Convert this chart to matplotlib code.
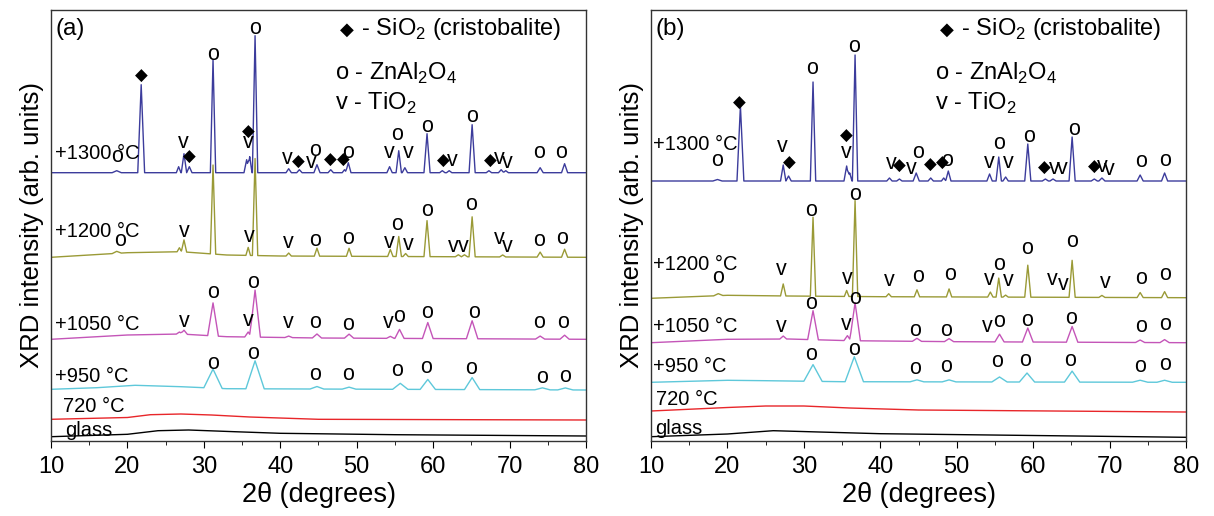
import numpy as np
import matplotlib.pyplot as plt
from matplotlib.ticker import MultipleLocator

plt.rcParams['font.family'] = ['Liberation Sans', 'DejaVu Sans']
plt.rcParams['mathtext.fontset'] = 'custom'
plt.rcParams['mathtext.rm'] = 'Liberation Sans'

# --- data (intensity in arb. units, 2theta in degrees) ---
# background knots (x, y) and peaks (position, height, half base width)

# panel (a)
a_glass_bx = [10, 20, 24, 28, 34, 40, 55, 80]
a_glass_by = [4.3, 6.7, 10.3, 11, 9.3, 7.7, 6.3, 5]

a720_bx = [10, 20, 23, 27, 31, 36, 45, 80]
a720_by = [21.7, 23.5, 26.3, 27, 26, 24, 21.7, 21]

a950_bx = [10, 16, 21, 27, 33, 80]
a950_by = [51.7, 53.3, 55.7, 54.3, 52.3, 51]
a950_peaks = [(31.2, 19, 1.2), (36.7, 28, 1.2), (44.8, 2.5, 0.9), (49.0, 2, 0.9),
              (55.7, 6, 1.0), (59.3, 10, 1.0), (65.1, 12, 1.0), (74.3, 2, 1.0),
              (77.3, 2, 1.0)]

a1050_bx = [10, 20, 27, 33, 45, 80]
a1050_by = [101.7, 106, 107, 104.3, 103, 101.7]
a1050_peaks = [(26.8, 2, 0.4), (27.4, 4, 0.45), (31.2, 33, 0.7), (35.8, 5, 0.45),
               (36.7, 47, 0.7), (41.1, 1.5, 0.5), (44.8, 4, 0.6), (49.0, 4, 0.6),
               (54.4, 2, 0.5), (55.6, 9, 0.6), (59.3, 16, 0.7), (65.1, 18, 0.75),
               (74.0, 3, 0.6), (77.2, 4, 0.6)]

a1200_bx = [10, 20, 27, 33, 40, 80]
a1200_by = [183.7, 188.3, 189.3, 186, 185, 183.7]
a1200_peaks = [(18.6, 2, 0.6), (26.8, 4, 0.3), (27.4, 12, 0.35), (31.2, 89, 0.35),
               (35.8, 8, 0.3), (36.7, 97, 0.35), (41.1, 3, 0.35), (44.8, 8, 0.35),
               (49.0, 8, 0.35), (54.4, 7, 0.35), (55.5, 20, 0.35), (56.4, 3, 0.35),
               (59.2, 36, 0.4), (63.3, 2, 0.4), (64.1, 2, 0.4), (65.1, 40, 0.4),
               (69.1, 2, 0.4), (74.0, 5, 0.4), (77.2, 8, 0.4)]

a1300_bx = [10, 80]
a1300_by = [268.3, 268.3]
a1300_peaks = [(18.6, 2, 0.6), (21.8, 88, 0.45), (26.7, 6, 0.3), (27.4, 19, 0.35),
               (28.1, 6, 0.35), (31.2, 113, 0.35), (35.6, 13, 0.35), (36.0, 16, 0.3),
               (36.7, 137, 0.35), (41.1, 4, 0.35), (42.5, 3, 0.35), (44.8, 8, 0.4),
               (46.6, 3, 0.35), (48.4, 3, 0.3), (48.9, 10, 0.35), (54.3, 6, 0.35),
               (55.5, 22, 0.35), (56.3, 5, 0.35), (59.2, 39, 0.4), (61.2, 2, 0.35),
               (62.1, 2, 0.35), (65.1, 48, 0.4), (67.3, 2, 0.35), (68.9, 3, 0.35),
               (69.5, 2, 0.35), (74.0, 5, 0.4), (77.2, 9, 0.4)]

# panel (b)
b_glass_bx = [10, 20, 26, 32, 40, 60, 80]
b_glass_by = [4.3, 7, 10.3, 9, 7.3, 5.5, 3.7]

b720_bx = [10, 20, 25, 30, 36, 45, 80]
b720_by = [30, 33.5, 35, 35, 33, 31, 29]

b950_bx = [10, 20, 25, 35, 80]
b950_by = [58.7, 60.7, 60.3, 59.3, 58.7]
b950_peaks = [(31.2, 16.7, 1.2), (36.6, 25, 1.2), (44.8, 2, 0.9), (49.0, 2, 0.9),
              (55.6, 5, 1.0), (59.2, 9, 1.0), (65.1, 11, 1.0), (74.0, 2, 1.0),
              (77.2, 2, 1.0)]

b1050_bx = [10, 20, 28, 36, 50, 80]
b1050_by = [98.3, 101.7, 102, 100.3, 99.3, 98.3]
b1050_peaks = [(27.3, 3, 0.45), (31.2, 29, 0.7), (35.7, 5, 0.45), (36.7, 38, 0.7),
               (44.8, 3, 0.6), (49.0, 3, 0.6), (55.6, 7.7, 0.6), (59.3, 14, 0.7),
               (65.1, 15.7, 0.75), (74.0, 2.5, 0.6), (77.2, 3, 0.6)]

b1200_bx = [10, 20, 28, 40, 80]
b1200_by = [142.7, 145.7, 145, 144.3, 143.3]
b1200_peaks = [(18.8, 2, 0.6), (27.3, 12, 0.35), (31.2, 79, 0.35), (35.6, 6, 0.3),
               (36.7, 96, 0.35), (41.1, 3, 0.35), (44.8, 7, 0.35), (49.0, 8, 0.35),
               (54.4, 5, 0.35), (55.5, 19, 0.35), (56.4, 2, 0.35), (59.3, 32, 0.4),
               (65.1, 37, 0.4), (69.0, 2, 0.4), (74.0, 5, 0.4), (77.2, 6, 0.4)]

b1300_bx = [10, 80]
b1300_by = [260, 260]
b1300_peaks = [(18.7, 1.5, 0.6), (21.7, 75, 0.45), (27.3, 16, 0.35), (28.0, 5, 0.35),
               (31.2, 99, 0.35), (35.6, 15, 0.35), (36.0, 8, 0.3), (36.7, 126, 0.35),
               (41.2, 3, 0.35), (42.5, 2, 0.35), (44.7, 8, 0.4), (46.6, 3, 0.35),
               (48.3, 3, 0.3), (48.9, 10, 0.35), (54.3, 7, 0.35), (55.5, 24, 0.35),
               (56.4, 4, 0.35), (59.3, 37, 0.4), (61.6, 2, 0.4), (62.6, 2, 0.4),
               (65.1, 44, 0.4), (68.0, 2, 0.4), (69.0, 3, 0.4), (74.0, 6, 0.4),
               (77.2, 8, 0.4)]

# phase marks (x, y, symbol): D = cristobalite, o = ZnAl2O4, v = TiO2
a1300_marks = [(21.8, 365, 'D'), (31.2, 386, 'o'), (36.7, 412, 'o'), (18.7, 284, 'o'),
               (27.3, 298, 'v'), (28.1, 284, 'D'), (35.8, 309, 'D'), (35.8, 298, 'v'),
               (40.9, 282, 'v'), (42.4, 279, 'D'), (44.5, 291, 'o'), (44.1, 278, 'v'),
               (46.6, 281, 'D'), (48.2, 281, 'D'), (48.9, 288, 'o'), (54.3, 288, 'v'),
               (55.3, 306, 'o'), (56.7, 288, 'v'), (59.2, 315, 'o'), (61.3, 280, 'D'),
               (62.5, 280, 'v'), (65.1, 324, 'o'), (67.5, 280, 'D'), (68.7, 282, 'v'),
               (69.7, 278, 'v'), (73.9, 289, 'o'), (76.8, 289, 'o')]
a1200_marks = [(19.0, 201, 'o'), (27.4, 209.3, 'v'), (35.9, 204.3, 'v'), (41.0, 198.3, 'v'),
               (44.6, 201, 'o'), (48.9, 202, 'o'), (54.3, 198.3, 'v'), (55.3, 216, 'o'),
               (56.8, 197, 'v'), (59.2, 231, 'o'), (62.7, 194.3, 'v'), (63.9, 194.3, 'v'),
               (64.9, 236, 'o'), (68.7, 202.7, 'v'), (69.7, 194.3, 'v'), (73.9, 201, 'o'),
               (76.9, 202, 'o')]
a1050_marks = [(27.4, 119.3, 'v'), (31.2, 148.3, 'o'), (36.5, 158.3, 'o'), (35.8, 121, 'v'),
               (41.1, 118, 'v'), (44.6, 118, 'o'), (48.9, 116, 'o'), (54.1, 118, 'v'),
               (55.6, 124.3, 'o'), (59.2, 128, 'o'), (65.3, 128, 'o'), (73.9, 118, 'o'),
               (77.0, 118.3, 'o')]
a950_marks = [(31.2, 77.7, 'o'), (36.5, 87.7, 'o'), (44.6, 67, 'o'), (48.9, 66, 'o'),
              (55.3, 70.3, 'o'), (59.1, 73.7, 'o'), (64.9, 72.7, 'o'), (74.2, 63.7, 'o'),
              (77.3, 64.3, 'o')]

b1300_marks = [(21.6, 338, 'D'), (31.1, 372.7, 'o'), (36.6, 394.3, 'o'), (18.7, 281, 'o'),
               (27.2, 294.3, 'v'), (28.1, 278.3, 'D'), (35.6, 305, 'D'), (35.6, 288.3, 'v'),
               (41.4, 277.7, 'v'), (42.5, 275, 'D'), (44.1, 273, 'v'), (44.9, 288.3, 'o'),
               (46.5, 276, 'D'), (48.1, 278, 'D'), (48.7, 281, 'o'), (54.3, 278, 'v'),
               (55.6, 297.7, 'o'), (56.8, 278, 'v'), (59.5, 305, 'o'), (61.5, 273, 'D'),
               (62.8, 273, 'v'), (63.8, 273, 'v'), (65.4, 311.7, 'o'), (68.0, 274.3, 'D'),
               (69.1, 274.3, 'v'), (70.0, 271.7, 'v'), (74.1, 279.3, 'o'), (77.2, 281, 'o')]
b1200_marks = [(18.8, 163.7, 'o'), (27.1, 171.7, 'v'), (30.9, 230.3, 'o'), (36.7, 246, 'o'),
               (35.7, 162.7, 'v'), (41.2, 161, 'v'), (45.0, 165, 'o'), (49.1, 166, 'o'),
               (54.3, 161.7, 'v'), (55.5, 177, 'o'), (56.8, 161, 'v'), (59.2, 192.7, 'o'),
               (62.5, 161.7, 'v'), (64.0, 157, 'v'), (65.1, 199.3, 'o'), (69.4, 158.3, 'v'),
               (74.1, 162.7, 'o'), (77.2, 166, 'o')]
b1050_marks = [(27.1, 115, 'v'), (30.9, 137.7, 'o'), (36.7, 142.7, 'o'), (35.5, 116, 'v'),
               (44.5, 111, 'o'), (48.6, 111, 'o'), (54.0, 114.3, 'v'), (55.5, 119.3, 'o'),
               (59.2, 120.3, 'o'), (65.0, 122.7, 'o'), (74.1, 115, 'o'), (77.2, 116, 'o')]
b950_marks = [(30.9, 86, 'o'), (36.6, 91.7, 'o'), (44.5, 72.7, 'o'), (48.6, 74.3, 'o'),
              (55.3, 79.3, 'o'), (59.0, 80.3, 'o'), (64.8, 80.3, 'o'), (74.0, 75, 'o'),
              (77.2, 77, 'o')]

trace_names = ['glass', '720 °C', '+950 °C', '+1050 °C', '+1200 °C', '+1300 °C']
colors = ['black', '#e8262a', '#5ec8da', '#c455b8', '#9a9a36', '#3c3c9c']

a_label_pos = [(11.9, 10.3), (11.6, 34.7), (10.5, 64), (10.5, 116), (10.5, 209.3), (10.5, 287.7)]
b_label_pos = [(10.5, 12.7), (10.6, 41.7), (10.3, 74.3), (10.3, 114.3), (10.3, 176), (10.3, 296.7)]


def build(bx, by, peaks):
    xs = list(bx)
    for p, h, w in peaks:
        xs += [p - w, p, p + w]
    xs = np.unique(xs)
    ys = np.interp(xs, bx, by)
    for p, h, w in peaks:
        ys = ys + h * np.clip(1 - np.abs(xs - p) / w, 0, None)
    return xs, ys


def draw_panel(ax, traces, marks, label_pos, tag):
    for (bx, by, peaks), name, c, (lx, ly) in zip(traces, trace_names, colors, label_pos):
        x, y = build(bx, by, peaks)
        ax.plot(x, y, color=c, lw=1.0)
        ax.text(lx, ly, name, fontsize=14.5, va='center', ha='left')
    for mlist in marks:
        for mx, my, s in mlist:
            if s == 'D':
                ax.text(mx, my, '◆', fontsize=12, ha='center', va='center',
                        family='DejaVu Sans')
            else:
                ax.text(mx, my - 5.5, s, fontsize=15.5, ha='center', va='baseline')
    ax.text(0.008, 0.955, tag, transform=ax.transAxes, fontsize=17.5, va='center')
    ax.text(0.553, 0.955, '◆', transform=ax.transAxes, fontsize=13, va='center',
            ha='center', family='DejaVu Sans')
    ax.text(0.568, 0.955, ' - SiO$_\\mathregular{2}$ (cristobalite)',
            transform=ax.transAxes, fontsize=17, va='center')
    ax.text(0.531, 0.852, 'o - ZnAl$_\\mathregular{2}$O$_\\mathregular{4}$',
            transform=ax.transAxes, fontsize=17, va='center')
    ax.text(0.531, 0.784, 'v - TiO$_\\mathregular{2}$', transform=ax.transAxes,
            fontsize=17, va='center')

    ax.set_xlim(10, 80)
    ax.set_ylim(0, 431)
    ax.set_yticks([])
    ax.xaxis.set_major_locator(MultipleLocator(10))
    ax.xaxis.set_minor_locator(MultipleLocator(5))
    ax.tick_params(axis='x', which='major', direction='out', length=5, labelsize=17, pad=6)
    ax.tick_params(axis='x', which='minor', direction='out', length=3)
    for sp in ax.spines.values():
        sp.set_linewidth(1.0)
        sp.set_color('#333333')
    ax.set_xlabel('2θ (degrees)', fontsize=19.5, labelpad=3)
    ax.set_ylabel('XRD intensity (arb. units)', fontsize=18.5, labelpad=5)


fig = plt.figure(figsize=(12.14, 5.16), dpi=100)
ax_a = fig.add_axes([51 / 1214, 75 / 516, 535 / 1214, 431 / 516])
ax_b = fig.add_axes([651 / 1214, 75 / 516, 535 / 1214, 431 / 516])

traces_a = [(a_glass_bx, a_glass_by, []), (a720_bx, a720_by, []),
            (a950_bx, a950_by, a950_peaks), (a1050_bx, a1050_by, a1050_peaks),
            (a1200_bx, a1200_by, a1200_peaks), (a1300_bx, a1300_by, a1300_peaks)]
traces_b = [(b_glass_bx, b_glass_by, []), (b720_bx, b720_by, []),
            (b950_bx, b950_by, b950_peaks), (b1050_bx, b1050_by, b1050_peaks),
            (b1200_bx, b1200_by, b1200_peaks), (b1300_bx, b1300_by, b1300_peaks)]

draw_panel(ax_a, traces_a, [a1300_marks, a1200_marks, a1050_marks, a950_marks], a_label_pos, '(a)')
draw_panel(ax_b, traces_b, [b1300_marks, b1200_marks, b1050_marks, b950_marks], b_label_pos, '(b)')

fig.savefig('out.png', dpi=100)
